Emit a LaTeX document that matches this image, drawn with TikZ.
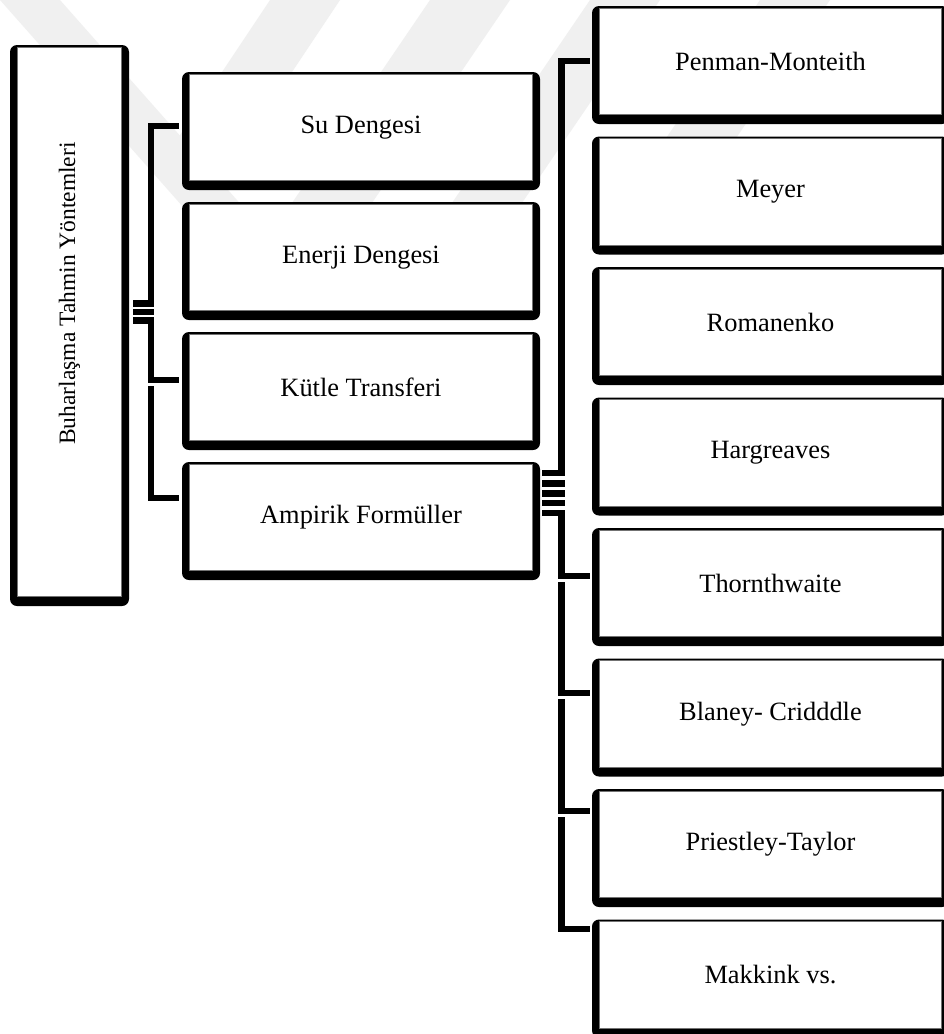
\documentclass[tikz,border=0pt]{standalone}
\usepackage{fontspec}
\setmainfont{Liberation Serif}
\newcommand\boxfont{\fontsize{26.4}{30}\selectfont}
\newcommand\rootfont{\fontsize{23.5}{27}\selectfont}
\begin{document}
\begin{tikzpicture}[x=1pt,y=-1pt,
  framebox/.style={fill=black, rounded corners=7pt, inner sep=0pt, outer sep=0pt,
    path picture={\fill[white, draw=black!55, line width=0.8pt, sharp corners]
      ([xshift=7.5pt,yshift=9.5pt]path picture bounding box.south west) rectangle
      ([xshift=-7.5pt,yshift=-2pt]path picture bounding box.north east);}},
  leftbox/.style={framebox, minimum width=358pt, minimum height=118pt},
  rightbox/.style={framebox, minimum width=357pt, minimum height=118pt},
  txt/.style={font=\boxfont, yshift=3.75pt},
  conn/.style={draw=black, line width=6.5pt},
  halo/.style={draw=white, line width=11pt},
  stripe/.style={fill=black!6},
]
\clip (0,0) rectangle (944,1034);
\fill[white] (0,0) rectangle (944,1034);

% faint background stripes
\fill[stripe] (0,0) -- (60,0) -- (290,260) -- (230,260) -- cycle;
\fill[stripe] (270,0) -- (340,0) -- (240,150) -- (170,150) -- cycle;
\fill[stripe] (430,0) -- (510,0) -- (340,250) -- (260,250) -- cycle;
\fill[stripe] (590,0) -- (660,0) -- (490,250) -- (420,250) -- cycle;
\fill[stripe] (760,0) -- (830,0) -- (660,250) -- (590,250) -- cycle;

% connectors of the first level
\draw[conn] (133,303.5) -| (151,126) -- (179,126);
\draw[conn] (133,312) -- (154.25,312);
\foreach \ty in {498,380}{
  \draw[halo] (133,320.5) -| (151,\ty) -- (179,\ty);
  \draw[conn] (133,320.5) -| (151,\ty) -- (179,\ty);
}

% connectors of the second level
\draw[conn] (542,473) -| (561.5,61) -- (590,61);
\foreach \by in {483.5,493.5,503}{
  \draw[conn] (542,\by) -- (564.75,\by);
}
\foreach \ty in {929,811,693,576}{
  \draw[halo] (542,513) -| (561.5,\ty) -- (590,\ty);
  \draw[conn] (542,513) -| (561.5,\ty) -- (590,\ty);
}

% root
\node[framebox, minimum width=119pt, minimum height=561pt,
  label={[font=\rootfont, rotate=90, xshift=32pt]center:Buharlaşma Tahmin Yöntemleri}]
  (root) at (69.5,325.5) {};

% methods
\node[leftbox, label={[txt]center:Su Dengesi}]        (su)  at (361,131) {};
\node[leftbox, label={[txt]center:Enerji Dengesi}]    (en)  at (361,261) {};
\node[leftbox, label={[txt]center:Kütle Transferi}]   (kt)  at (361,391) {};
\node[leftbox, label={[txt]center:Ampirik Formüller}] (amp) at (361,521) {};

% empirical formulas
\foreach \n/\t [count=\i from 0] in {pm/Penman-Monteith, me/Meyer, ro/Romanenko,
    ha/Hargreaves, th/Thornthwaite, bc/Blaney- Cridddle, pt/Priestley-Taylor, mk/Makkink vs.}{
  \node[rightbox, label={[txt]center:\t}] (\n) at (770.5,65+130.5*\i) {};
}
\end{tikzpicture}
\end{document}
